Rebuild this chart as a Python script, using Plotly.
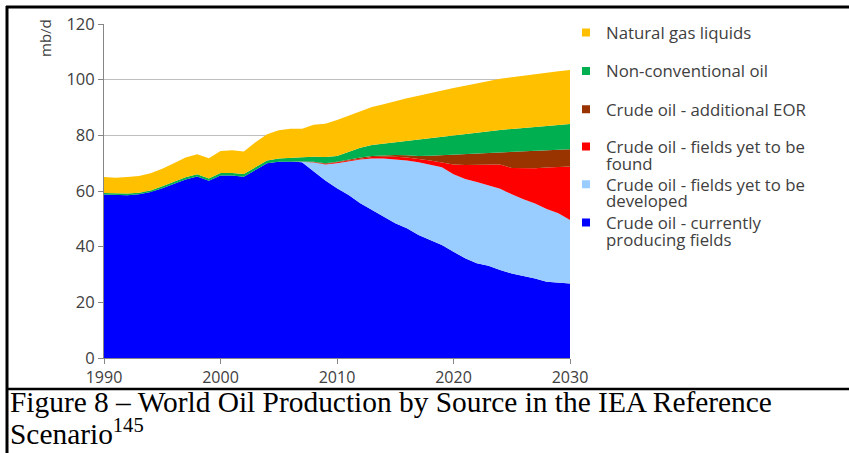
import plotly.graph_objects as go

years = list(range(1990, 2031))

currently_producing = [58.7, 58.5, 58.5, 58.8, 59.6, 61.0, 62.6, 64.1, 65.2, 63.7,
                       65.6, 65.6, 65.1, 67.6, 70.0, 70.5, 70.6, 70.3, 67.0, 63.8,
                       61.0, 58.6, 55.6, 53.2, 50.8, 48.4, 46.6, 44.2, 42.4, 40.6,
                       38.2, 35.8, 34.0, 33.1, 31.6, 30.4, 29.5, 28.6, 27.4, 27.1,
                       26.8]
yet_to_be_developed = [0] * 17 + [0.2, 3.2, 5.7,
                       9.0, 12.1, 15.7, 18.5, 20.9, 22.9, 24.4, 26.1, 27.1, 27.9,
                       27.8, 28.5, 29.2, 28.9, 29.2, 28.4, 27.5, 26.9, 26.1, 24.9,
                       22.8]
yet_to_be_found = [0] * 17 + [0.0, 0.1, 0.2,
                   0.3, 0.3, 0.4, 0.5, 0.6, 1.0, 1.0, 1.2, 1.5, 1.7,
                   3.5, 5.0, 6.1, 7.5, 8.7, 9.5, 11.2, 12.7, 14.9, 16.6,
                   19.2]
additional_eor = [0] * 17 + [0.1, 0.2, 0.3,
                  0.2, 0.3, 0.3, 0.4, 0.5, 0.6, 0.8, 1.1, 1.7, 2.7,
                  3.6, 4.0, 4.2, 4.2, 4.4, 5.8, 6.0, 6.2, 6.2, 6.2,
                  6.2]
non_conventional = [0.6, 0.6, 0.6, 0.6, 0.6, 0.7, 0.7, 0.8, 0.8, 0.8,
                    0.9, 0.9, 1.0, 1.0, 1.0, 1.2, 1.4, 1.5, 1.8, 2.2,
                    2.1, 2.7, 3.5, 3.9, 4.2, 4.6, 5.2, 5.9, 6.3, 6.7,
                    7.0, 7.3, 7.6, 7.8, 8.0, 8.2, 8.5, 8.6, 8.8, 9.0,
                    9.1]
ngl = [5.7, 5.7, 5.9, 6.0, 6.2, 6.3, 6.7, 7.1, 7.2, 7.3,
       7.9, 8.1, 8.1, 8.9, 9.4, 10.1, 10.4, 10.3, 11.5, 12.0,
       12.9, 13.0, 13.1, 13.7, 14.2, 14.8, 15.3, 15.7, 16.2, 16.6,
       16.9, 17.2, 17.6, 18.0, 18.4, 18.6, 18.8, 19.0, 19.1, 19.2,
       19.4]

# (legend lines, values, colour), bottom of the stack first
series = [
    (['Crude oil - currently', 'producing fields'], currently_producing, '#0000ff'),
    (['Crude oil - fields yet to be', 'developed'], yet_to_be_developed, '#99ccff'),
    (['Crude oil - fields yet to be', 'found'], yet_to_be_found, '#ff0000'),
    (['Crude oil - additional EOR'], additional_eor, '#993300'),
    (['Non-conventional oil'], non_conventional, '#00b050'),
    (['Natural gas liquids'], ngl, '#ffc000'),
]
legend_rows = [222.7, 184.3, 146.7, 109.3, 71.0, 32.7]   # pixel centre of each entry's first line
line_gap = 16.5

px = lambda p: (p - 104) / 466
py = lambda p: (358 - p) / 334

fig = go.Figure()
for name, vals, col in series:
    fig.add_trace(go.Scatter(
        x=years, y=vals, name=' '.join(name),
        mode='lines', stackgroup='one',
        line=dict(width=0, color=col), fillcolor=col,
        showlegend=False,
    ))

legend_font = dict(family='Open Sans', size=16.8, color='#404040')
legends = {}
n = 0
for (name, vals, col), row in zip(series, legend_rows):
    for k, line in enumerate(name):
        n += 1
        key = 'legend' if n == 1 else 'legend%d' % n
        fig.add_trace(go.Scatter(
            x=[None], y=[None], mode='markers', name=line,
            marker=dict(symbol='square', size=8, color=col if k == 0 else 'rgba(0,0,0,0)'),
            legend=key, showlegend=True,
        ))
        legends[key] = dict(
            x=px(566), xanchor='left', y=py(row + k * line_gap), yanchor='middle',
            bgcolor='rgba(0,0,0,0)', font=legend_font, itemwidth=30,
        )

# page frame (left / top border, separator above caption)
frame = dict(type='line', xref='paper', yref='paper', layer='above')
fig.add_shape(**frame, x0=px(7), x1=px(7), y0=py(6), y1=py(460), line=dict(color='black', width=3))
fig.add_shape(**frame, x0=px(6), x1=px(860), y0=py(7), y1=py(7), line=dict(color='black', width=3))
fig.add_shape(**frame, x0=px(7), x1=px(860), y0=py(389), y1=py(389), line=dict(color='black', width=2.5))

fig.add_annotation(
    text='mb/d', textangle=-90, showarrow=False,
    xref='paper', yref='paper', x=px(45), y=py(38), xanchor='center', yanchor='middle',
    font=dict(family='Open Sans', size=15, color='#404040'),
)
caption_font = dict(family='Liberation Serif', size=29.4, color='black')
fig.add_annotation(
    text='Figure 8 \u2013 World Oil Production by Source in the IEA Reference',
    showarrow=False, xanchor='left', yanchor='middle',
    xref='paper', yref='paper', x=px(8), y=py(402), font=caption_font,
)
fig.add_annotation(
    text='Scenario<sup>145</sup>',
    showarrow=False, xanchor='left', yanchor='middle',
    xref='paper', yref='paper', x=px(8), y=py(432), font=caption_font,
)

fig.update_xaxes(
    range=[1990, 2030], tickvals=[1990, 2000, 2010, 2020, 2030],
    showline=True, linecolor='#868686', linewidth=1,
    ticks='outside', ticklen=5, tickcolor='#868686',
    showgrid=False, zeroline=False,
    tickfont=dict(family='Open Sans', size=16, color='#404040'),
)
fig.update_yaxes(
    range=[0, 120], dtick=20,
    showline=True, linecolor='#868686', linewidth=1,
    ticks='outside', ticklen=5, tickcolor='#868686',
    showgrid=True, gridcolor='#bfbfbf', gridwidth=1, zeroline=False,
    tickfont=dict(family='Open Sans', size=16.5, color='#404040'),
)
fig.update_layout(
    width=849, height=453,
    margin=dict(l=104, r=279, t=24, b=95),
    paper_bgcolor='white', plot_bgcolor='white',
    **legends,
)

fig.write_html("out.html", config={'displayModeBar': False},
               post_script="document.body.style.margin='0px';")
